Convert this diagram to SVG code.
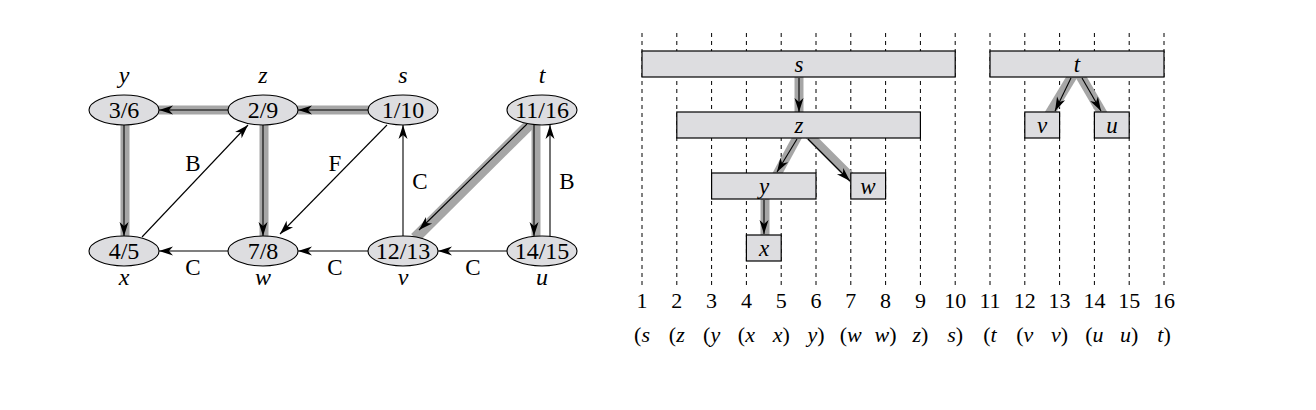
<svg xmlns="http://www.w3.org/2000/svg" width="1316" height="410" viewBox="0 0 1316 410">
<style>
.band{stroke:#a6a6a6;stroke-width:9;fill:none;stroke-linecap:butt}
.edge{stroke:#000;stroke-width:1.1;fill:none;marker-end:url(#arr)}
.nd{fill:#dddde0;stroke:#000;stroke-width:1.1}
.bx{fill:#dddde0;stroke:#000;stroke-width:1.2}
.num{font-family:"Liberation Serif",serif;font-size:24px;fill:#000;text-anchor:middle}
.it{font-family:"Liberation Serif",serif;font-size:24px;font-style:italic;fill:#000;text-anchor:middle}
.bi{font-family:"Liberation Serif",serif;font-size:23px;font-style:italic;fill:#000;text-anchor:middle}
.lab{font-family:"Liberation Serif",serif;font-size:23px;fill:#000;text-anchor:middle}
.dash{stroke:#000;stroke-width:1;stroke-dasharray:4 4}
.tl{font-family:"Liberation Serif",serif;font-size:22px;fill:#000;text-anchor:middle}
</style>
<defs>
<marker id="arr" markerUnits="userSpaceOnUse" viewBox="-15 -6 16 12" markerWidth="16" markerHeight="12" refX="0" refY="0" orient="auto">
<path d="M0,0 L-14,-4.5 L-10,0 L-14,4.5 z" fill="#000"/>
</marker>
</defs>
<rect width="1316" height="410" fill="#fff"/>

<g id="timeline-grid">
<line class="dash" x1="642" y1="33" x2="642" y2="289"/>
<line class="dash" x1="676.8" y1="33" x2="676.8" y2="289"/>
<line class="dash" x1="711.6" y1="33" x2="711.6" y2="289"/>
<line class="dash" x1="746.4" y1="33" x2="746.4" y2="289"/>
<line class="dash" x1="781.2" y1="33" x2="781.2" y2="289"/>
<line class="dash" x1="816" y1="33" x2="816" y2="289"/>
<line class="dash" x1="850.8" y1="33" x2="850.8" y2="289"/>
<line class="dash" x1="885.6" y1="33" x2="885.6" y2="289"/>
<line class="dash" x1="920.4" y1="33" x2="920.4" y2="289"/>
<line class="dash" x1="955.2" y1="33" x2="955.2" y2="289"/>
<line class="dash" x1="990" y1="33" x2="990" y2="289"/>
<line class="dash" x1="1024.8" y1="33" x2="1024.8" y2="289"/>
<line class="dash" x1="1059.6" y1="33" x2="1059.6" y2="289"/>
<line class="dash" x1="1094.4" y1="33" x2="1094.4" y2="289"/>
<line class="dash" x1="1129.2" y1="33" x2="1129.2" y2="289"/>
<line class="dash" x1="1164" y1="33" x2="1164" y2="289"/>
</g>

<g id="connectors">
<!-- left graph tree bands -->
<line class="band" x1="229" y1="110" x2="158" y2="110"/>
<line class="band" x1="369" y1="110" x2="297" y2="110"/>
<line class="band" x1="125" y1="124" x2="125" y2="237"/>
<line class="band" x1="264" y1="124" x2="264" y2="237"/>
<line class="band" x1="536" y1="124" x2="536" y2="237"/>
<line class="band" style="stroke-width:11" x1="532" y1="122" x2="415" y2="238"/>
<!-- left graph edges -->
<line class="edge" x1="228" y1="110" x2="159" y2="110"/>
<line class="edge" x1="368" y1="110" x2="298" y2="110"/>
<line class="edge" x1="124" y1="125" x2="124" y2="236"/>
<line class="edge" x1="263" y1="125" x2="263" y2="236"/>
<line class="edge" x1="534" y1="125" x2="534" y2="236"/>
<line class="edge" x1="527" y1="124" x2="419" y2="230"/>
<line class="edge" x1="550" y1="237" x2="550" y2="125"/>
<line class="edge" x1="142" y1="237" x2="248" y2="125"/>
<line class="edge" x1="387" y1="125" x2="280" y2="234"/>
<line class="edge" x1="228" y1="251" x2="159" y2="251"/>
<line class="edge" x1="368" y1="251" x2="298" y2="251"/>
<line class="edge" x1="507" y1="251" x2="438" y2="251"/>
<line class="edge" x1="403" y1="236" x2="403" y2="125"/>
<!-- right tree bands -->
<line class="band" x1="799" y1="70" x2="799" y2="118"/>
<line class="band" x1="800" y1="132" x2="775" y2="178"/>
<line class="band" x1="806" y1="132" x2="858" y2="184"/>
<line class="band" x1="765" y1="190" x2="765" y2="240"/>
<line class="band" style="stroke-width:10" x1="1076" y1="70" x2="1047" y2="118"/>
<line class="band" style="stroke-width:10" x1="1077" y1="70" x2="1105" y2="118"/>
<!-- right tree arrows -->
<line class="edge" x1="799" y1="78" x2="799" y2="112"/>
<line class="edge" x1="797" y1="139" x2="777" y2="172"/>
<line class="edge" x1="808" y1="139" x2="850" y2="181"/>
<line class="edge" x1="764" y1="200" x2="764" y2="234"/>
<line class="edge" x1="1071" y1="78" x2="1055" y2="111"/>
<line class="edge" x1="1082" y1="78" x2="1101" y2="111"/>
</g>

<g id="node-y"><ellipse class="nd" cx="124" cy="110" rx="35" ry="15"/><text class="num" x="124" y="118">3/6</text><text class="it" x="124" y="83">y</text></g>
<g id="node-z"><ellipse class="nd" cx="263" cy="110" rx="35" ry="15"/><text class="num" x="263" y="118">2/9</text><text class="it" x="263" y="83">z</text></g>
<g id="node-s"><ellipse class="nd" cx="403" cy="110" rx="35" ry="15"/><text class="num" x="403" y="118">1/10</text><text class="it" x="403" y="83">s</text></g>
<g id="node-t"><ellipse class="nd" cx="542" cy="110" rx="35" ry="15"/><text class="num" x="542" y="118">11/16</text><text class="it" x="542" y="83">t</text></g>
<g id="node-x"><ellipse class="nd" cx="124" cy="251" rx="35" ry="15"/><text class="num" x="124" y="259">4/5</text><text class="it" x="124" y="285">x</text></g>
<g id="node-w"><ellipse class="nd" cx="263" cy="251" rx="35" ry="15"/><text class="num" x="263" y="259">7/8</text><text class="it" x="263" y="285">w</text></g>
<g id="node-v"><ellipse class="nd" cx="403" cy="251" rx="35" ry="15"/><text class="num" x="403" y="259">12/13</text><text class="it" x="403" y="285">v</text></g>
<g id="node-u"><ellipse class="nd" cx="542" cy="251" rx="35" ry="15"/><text class="num" x="542" y="259">14/15</text><text class="it" x="542" y="285">u</text></g>

<g id="edge-labels">
<text class="lab" x="193" y="171">B</text>
<text class="lab" x="335" y="171">F</text>
<text class="lab" x="420" y="189">C</text>
<text class="lab" x="567" y="189">B</text>
<text class="lab" x="193" y="275">C</text>
<text class="lab" x="335" y="275">C</text>
<text class="lab" x="473" y="275">C</text>
</g>

<g id="box-s"><rect class="bx" x="642" y="51" width="313.2" height="26"/><text class="bi" x="799" y="72">s</text></g>
<g id="box-z"><rect class="bx" x="676.8" y="112" width="243.6" height="26"/><text class="bi" x="799" y="133">z</text></g>
<g id="box-y"><rect class="bx" x="711.6" y="173" width="104.4" height="26"/><text class="bi" x="764" y="194">y</text></g>
<g id="box-w"><rect class="bx" x="850.8" y="173" width="34.8" height="26"/><text class="bi" x="868" y="194">w</text></g>
<g id="box-x"><rect class="bx" x="746.4" y="235" width="34.8" height="26"/><text class="bi" x="764" y="256">x</text></g>
<g id="box-t"><rect class="bx" x="990" y="51" width="174" height="26"/><text class="bi" x="1077" y="72">t</text></g>
<g id="box-v"><rect class="bx" x="1024.8" y="112" width="34.8" height="26"/><text class="bi" x="1042" y="133">v</text></g>
<g id="box-u"><rect class="bx" x="1094.4" y="112" width="34.8" height="26"/><text class="bi" x="1112" y="133">u</text></g>

<g id="time-numbers">
<text class="tl" x="642" y="308">1</text>
<text class="tl" x="676.8" y="308">2</text>
<text class="tl" x="711.6" y="308">3</text>
<text class="tl" x="746.4" y="308">4</text>
<text class="tl" x="781.2" y="308">5</text>
<text class="tl" x="816" y="308">6</text>
<text class="tl" x="850.8" y="308">7</text>
<text class="tl" x="885.6" y="308">8</text>
<text class="tl" x="920.4" y="308">9</text>
<text class="tl" x="955.2" y="308">10</text>
<text class="tl" x="990" y="308">11</text>
<text class="tl" x="1024.8" y="308">12</text>
<text class="tl" x="1059.6" y="308">13</text>
<text class="tl" x="1094.4" y="308">14</text>
<text class="tl" x="1129.2" y="308">15</text>
<text class="tl" x="1164" y="308">16</text>
</g>

<g id="paren-structure">
<text class="tl" x="642" y="342">(<tspan font-style="italic">s</tspan></text>
<text class="tl" x="676.8" y="342">(<tspan font-style="italic">z</tspan></text>
<text class="tl" x="711.6" y="342">(<tspan font-style="italic">y</tspan></text>
<text class="tl" x="746.4" y="342">(<tspan font-style="italic">x</tspan></text>
<text class="tl" x="781.2" y="342"><tspan font-style="italic">x</tspan>)</text>
<text class="tl" x="816" y="342"><tspan font-style="italic">y</tspan>)</text>
<text class="tl" x="850.8" y="342">(<tspan font-style="italic">w</tspan></text>
<text class="tl" x="885.6" y="342"><tspan font-style="italic">w</tspan>)</text>
<text class="tl" x="920.4" y="342"><tspan font-style="italic">z</tspan>)</text>
<text class="tl" x="955.2" y="342"><tspan font-style="italic">s</tspan>)</text>
<text class="tl" x="990" y="342">(<tspan font-style="italic">t</tspan></text>
<text class="tl" x="1024.8" y="342">(<tspan font-style="italic">v</tspan></text>
<text class="tl" x="1059.6" y="342"><tspan font-style="italic">v</tspan>)</text>
<text class="tl" x="1094.4" y="342">(<tspan font-style="italic">u</tspan></text>
<text class="tl" x="1129.2" y="342"><tspan font-style="italic">u</tspan>)</text>
<text class="tl" x="1164" y="342"><tspan font-style="italic">t</tspan>)</text>
</g>
</svg>
